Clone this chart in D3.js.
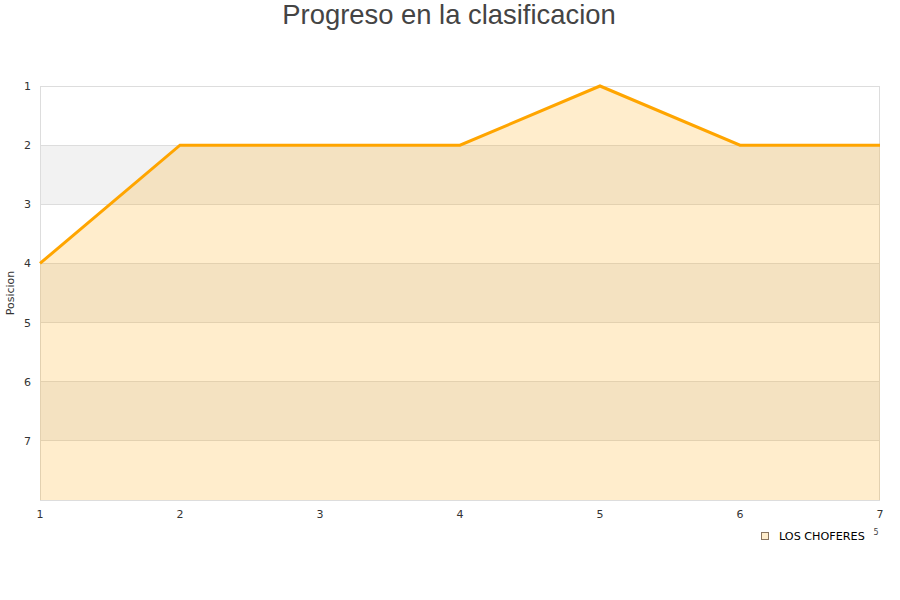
<!DOCTYPE html>
<html>
<head>
<meta charset="utf-8">
<script src="https://cdn.jsdelivr.net/npm/d3@7"></script>
<style>
  body { margin: 0; background: #fff; }
  svg { display: block; font-family: "DejaVu Sans", sans-serif; }
</style>
</head>
<body>
<svg id="chart" width="900" height="600"></svg>
<script>
const title = "Progreso en la clasificacion";
const yTitle = "Posicion";
const seriesName = "LOS CHOFERES";
const jornadas = [1, 2, 3, 4, 5, 6, 7];
const posiciones = [4, 2, 2, 2, 1, 2, 2];
const yTicks = [1, 2, 3, 4, 5, 6, 7];
const yDomain = [1, 8];

const svg = d3.select("#chart");
const m = { left: 40, right: 20, top: 86, bottom: 100 };
const W = 900, H = 600;
const x = d3.scaleLinear().domain([1, 7]).range([m.left, W - m.right]);
const y = d3.scaleLinear().domain(yDomain).range([m.top, H - m.bottom]);

// title
svg.append("text").attr("x", 449).attr("y", 24).attr("text-anchor", "middle")
  .attr("font-family", "Liberation Sans, Arial, sans-serif")
  .attr("font-size", 27.4).attr("fill", "#444").text(title);

// alternating bands
const bands = d3.range(yDomain[0], yDomain[1]);
svg.append("g").selectAll("rect").data(bands).join("rect")
  .attr("x", m.left).attr("width", x(7) - x(1))
  .attr("y", d => y(d)).attr("height", d => y(d + 1) - y(d))
  .attr("fill", (d, i) => i % 2 === 1 ? "#f2f2f2" : "#ffffff");

// gridlines
svg.append("g").selectAll("line").data(yTicks).join("line")
  .attr("x1", m.left).attr("x2", x(7))
  .attr("y1", d => y(d)).attr("y2", d => y(d))
  .attr("stroke", "#dddddd").attr("stroke-width", 1).attr("shape-rendering", "crispEdges");

// border
svg.append("rect").attr("x", m.left + 0.5).attr("y", y(1) + 0.5)
  .attr("width", x(7) - x(1) - 1).attr("height", y(8) - y(1))
  .attr("fill", "none").attr("stroke", "#dddddd").attr("stroke-width", 1).attr("shape-rendering", "crispEdges");

const pts = jornadas.map((j, i) => [j, posiciones[i]]);
const area = d3.area().x(d => x(d[0])).y0(y(8)).y1(d => y(d[1]));
const line = d3.line().x(d => x(d[0])).y(d => y(d[1]));

svg.append("path").datum(pts).attr("d", area)
  .attr("fill", "#FFA500").attr("fill-opacity", 0.2);
svg.append("path").datum(pts).attr("d", line)
  .attr("fill", "none").attr("stroke", "#FFA500").attr("stroke-width", 3);

// y axis labels
svg.append("g").selectAll("text").data(yTicks).join("text")
  .attr("x", 31).attr("y", d => y(d) + 4).attr("text-anchor", "end")
  .attr("font-size", 11).attr("fill", "#333").text(d => d);

// x axis labels
svg.append("g").selectAll("text").data(jornadas).join("text")
  .attr("x", d => x(d)).attr("y", 518).attr("text-anchor", "middle")
  .attr("font-size", 11).attr("fill", "#333").text(d => d);

// y title
svg.append("text").attr("transform", "translate(14,293) rotate(-90)")
  .attr("text-anchor", "middle").attr("font-size", 11).attr("fill", "#333").text(yTitle);

// legend
svg.append("rect").attr("x", 761.5).attr("y", 532.5).attr("width", 7).attr("height", 7)
  .attr("fill", "#FFEDCC").attr("stroke", "#8a7560").attr("stroke-width", 1);
svg.append("text").attr("x", 779).attr("y", 540).attr("font-size", 11.2)
  .attr("fill", "#000").text(seriesName);
svg.append("text").attr("x", 876).attr("y", 535).attr("text-anchor", "middle")
  .attr("font-size", 8).attr("fill", "#444").text("5");
</script>
</body>
</html>
